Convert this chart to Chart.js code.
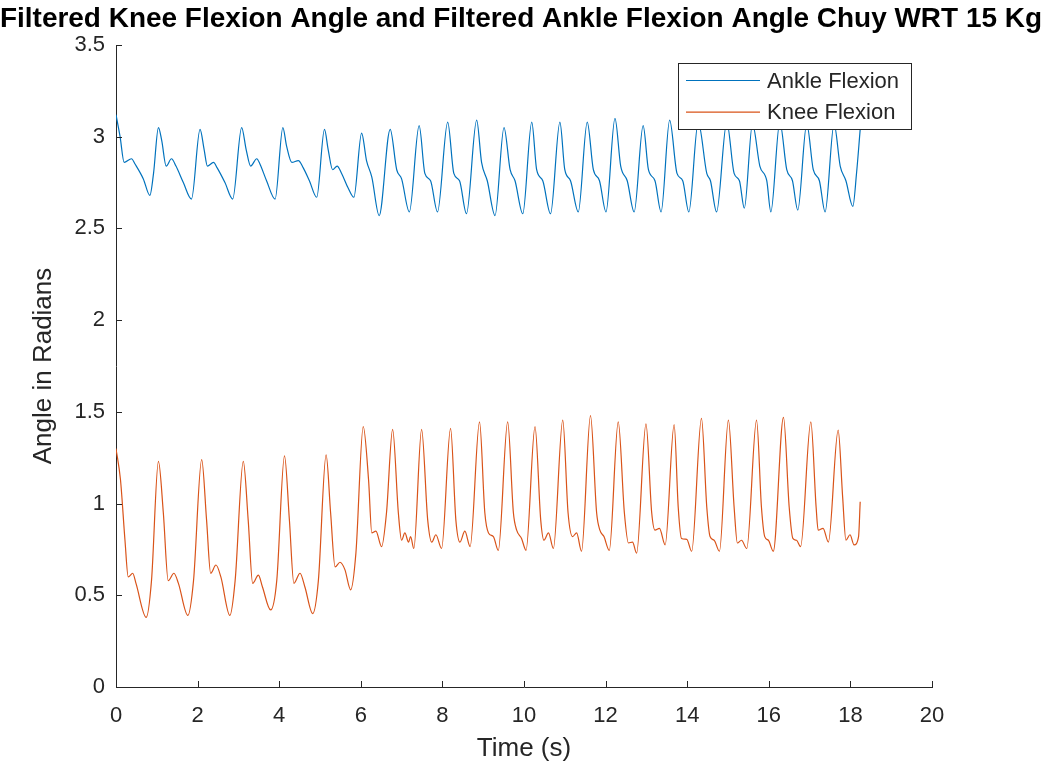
<!DOCTYPE html>
<html>
<head>
<meta charset="utf-8">
<title>Filtered Knee and Ankle Flexion</title>
<script src="https://cdn.jsdelivr.net/npm/chart.js@4.4.1/dist/chart.umd.min.js"></script>
<style>
  html, body { margin: 0; padding: 0; background: #ffffff; }
  #wrap { width: 1042px; height: 769px; }
</style>
</head>
<body>
<div id="wrap"><canvas id="chart" width="1042" height="769"></canvas></div>
<script>
// Time axis (s) and joint angles (rad)
const ankleTime = [
  0.00, 0.10, 0.20, 0.38, 0.47, 0.67, 0.83, 0.92, 1.04, 1.12, 1.23, 1.36, 1.47, 1.65, 1.85,
  2.06, 2.16, 2.24, 2.39, 2.48, 2.67, 2.86, 3.08, 3.19, 3.30, 3.45, 3.53, 3.69, 3.90,
  4.09, 4.18, 4.31, 4.47, 4.59, 4.74, 4.92, 5.11, 5.20, 5.31, 5.42, 5.53, 5.69, 5.83,
  6.02, 6.14, 6.27, 6.45, 6.72, 6.88, 7.00, 7.19, 7.43, 7.57, 7.71, 7.88,
  8.13, 8.28, 8.42, 8.59, 8.84, 8.96, 9.10, 9.29, 9.51, 9.66, 9.78, 9.97,
  10.19, 10.31, 10.46, 10.65, 10.88, 11.00, 11.14, 11.33, 11.55, 11.70, 11.85, 12.01,
  12.23, 12.37, 12.53, 12.70, 12.92, 13.05, 13.21, 13.36, 13.57, 13.75, 13.89, 14.04,
  14.27, 14.48, 14.57, 14.72, 14.97, 15.15, 15.28, 15.40, 15.60, 15.78, 15.95, 16.05,
  16.27, 16.44, 16.58, 16.71, 16.93, 17.09, 17.24, 17.38, 17.60, 17.75, 17.89, 18.06,
  18.15, 18.24
];
const ankleAngle = [
  3.12, 3.00, 2.86, 2.88, 2.85, 2.77, 2.68, 2.80, 3.05, 2.98, 2.84, 2.88, 2.84, 2.75, 2.66,
  3.04, 2.93, 2.84, 2.86, 2.83, 2.75, 2.66, 3.05, 2.93, 2.84, 2.88, 2.85, 2.76, 2.66,
  3.05, 2.95, 2.86, 2.87, 2.83, 2.76, 2.67, 3.04, 2.93, 2.82, 2.84, 2.80, 2.72, 2.67,
  3.02, 2.87, 2.78, 2.57, 3.04, 2.82, 2.77, 2.59, 3.06, 2.80, 2.76, 2.59,
  3.08, 2.80, 2.76, 2.58, 3.09, 2.86, 2.76, 2.57, 3.05, 2.82, 2.76, 2.58,
  3.08, 2.82, 2.76, 2.58, 3.08, 2.82, 2.76, 2.59, 3.08, 2.82, 2.76, 2.59,
  3.10, 2.84, 2.76, 2.59, 3.06, 2.82, 2.76, 2.59, 3.09, 2.80, 2.76, 2.59,
  3.08, 2.80, 2.76, 2.59, 3.08, 2.80, 2.76, 2.61, 3.07, 2.84, 2.76, 2.59,
  3.08, 2.82, 2.76, 2.60, 3.07, 2.82, 2.76, 2.59, 3.07, 2.84, 2.76, 2.62,
  2.80, 3.04
];

const kneeTime = [
  0.00, 0.11, 0.22, 0.30, 0.41, 0.49, 0.74, 0.87, 1.04, 1.16, 1.28, 1.42, 1.53, 1.76, 1.90,
  2.10, 2.22, 2.32, 2.45, 2.57, 2.79, 2.92, 3.12, 3.24, 3.35, 3.49, 3.59, 3.79, 3.94,
  4.13, 4.25, 4.36, 4.51, 4.63, 4.82, 4.96, 5.15, 5.26, 5.37, 5.49, 5.61, 5.75, 5.88,
  6.06, 6.19, 6.27, 6.37, 6.51, 6.63, 6.78, 6.92, 7.00, 7.08, 7.17, 7.22, 7.30,
  7.49, 7.64, 7.74, 7.84, 7.98, 8.20, 8.33, 8.43, 8.55, 8.68,
  8.91, 9.04, 9.13, 9.25, 9.37, 9.60, 9.74, 9.82, 9.94, 10.05,
  10.27, 10.41, 10.49, 10.60, 10.72, 10.95, 11.08, 11.19, 11.29, 11.41,
  11.63, 11.78, 11.86, 11.96, 12.09, 12.31, 12.46, 12.56, 12.66, 12.76,
  12.99, 13.13, 13.21, 13.32, 13.46, 13.68, 13.78, 13.86, 13.99, 14.11,
  14.35, 14.48, 14.56, 14.66, 14.79, 15.01, 15.15, 15.23, 15.33, 15.46,
  15.70, 15.82, 15.90, 15.99, 16.11, 16.36, 16.50, 16.59, 16.68, 16.78,
  17.03, 17.16, 17.21, 17.33, 17.46, 17.70, 17.81, 17.89, 17.99, 18.09,
  18.20, 18.24
];
const kneeAngle = [
  1.30, 1.13, 0.80, 0.60, 0.62, 0.565, 0.38, 0.58, 1.23, 0.95, 0.58, 0.62, 0.565, 0.39, 0.58,
  1.24, 0.91, 0.62, 0.665, 0.60, 0.39, 0.58, 1.23, 0.91, 0.565, 0.61, 0.545, 0.42, 0.58,
  1.26, 0.91, 0.565, 0.62, 0.545, 0.40, 0.58, 1.265, 0.95, 0.655, 0.68, 0.64, 0.53, 0.73,
  1.42, 1.13, 0.84, 0.85, 0.765, 0.95, 1.405, 0.95, 0.80, 0.84, 0.79, 0.82, 0.755,
  1.405, 0.91, 0.79, 0.83, 0.755, 1.41, 0.91, 0.79, 0.85, 0.765,
  1.445, 0.95, 0.84, 0.82, 0.745, 1.445, 0.95, 0.855, 0.81, 0.745,
  1.42, 0.91, 0.80, 0.84, 0.755, 1.455, 0.95, 0.82, 0.84, 0.74,
  1.48, 0.95, 0.855, 0.82, 0.745, 1.445, 0.95, 0.785, 0.79, 0.73,
  1.435, 0.95, 0.855, 0.865, 0.775, 1.43, 0.98, 0.81, 0.805, 0.74,
  1.465, 0.98, 0.82, 0.80, 0.74, 1.455, 0.98, 0.785, 0.80, 0.755,
  1.455, 0.98, 0.82, 0.80, 0.74, 1.47, 0.98, 0.81, 0.80, 0.765,
  1.445, 0.98, 0.855, 0.865, 0.79, 1.40, 1.035, 0.80, 0.83, 0.775,
  0.82, 1.01
];

const xTickValues = [0, 2, 4, 6, 8, 10, 12, 14, 16, 18, 20];
const yTickValues = [0, 0.5, 1, 1.5, 2, 2.5, 3, 3.5];

const seriesNames = ['Ankle Flexion', 'Knee Flexion'];
const seriesColors = ['#0072BD', '#D95319'];

const chartTitle = 'Filtered Knee Flexion Angle and Filtered Ankle Flexion Angle Chuy WRT 15 Kg';
const xTitle = 'Time (s)';
const yTitle = 'Angle in Radians';

const FONT = '"Liberation Sans", Arial, Helvetica, sans-serif';
const INK = '#262626';

function toPoints(xs, ys) {
  return xs.map((x, i) => ({ x: x, y: ys[i] }));
}

// Tick marks drawn inward from both axis lines
const inwardTicks = {
  id: 'inwardTicks',
  afterDraw(chart) {
    const ctx = chart.ctx;
    const xs = chart.scales.x, ys = chart.scales.y;
    const len = 6;
    ctx.save();
    ctx.strokeStyle = INK;
    ctx.lineWidth = 1;
    ctx.beginPath();
    xTickValues.forEach(v => {
      const px = Math.round(xs.getPixelForValue(v)) + 0.5;
      const py = ys.bottom;
      ctx.moveTo(px, py);
      ctx.lineTo(px, py - len);
    });
    yTickValues.forEach(v => {
      const py = Math.round(ys.getPixelForValue(v)) + 0.5;
      const px = xs.left;
      ctx.moveTo(px, py);
      ctx.lineTo(px + len, py);
    });
    ctx.stroke();
    ctx.restore();
  }
};

// Boxed legend in the upper right of the plot area
const boxedLegend = {
  id: 'boxedLegend',
  afterDraw(chart) {
    const ctx = chart.ctx;
    const area = chart.chartArea;
    const w = 233, h = 66;
    const left = area.right - 21 - w;
    const top = area.top + 18;
    ctx.save();
    ctx.fillStyle = '#ffffff';
    ctx.fillRect(left, top, w, h);
    ctx.strokeStyle = INK;
    ctx.lineWidth = 1;
    ctx.strokeRect(Math.round(left) + 0.5, Math.round(top) + 0.5, w, h);
    ctx.font = '22px ' + FONT;
    ctx.textBaseline = 'middle';
    ctx.textAlign = 'left';
    chart.data.datasets.forEach((ds, i) => {
      const y = top + 17.5 + i * 31.6;
      ctx.strokeStyle = ds.borderColor;
      ctx.lineWidth = 1.2;
      ctx.beginPath();
      ctx.moveTo(left + 8, y);
      ctx.lineTo(left + 82, y);
      ctx.stroke();
      ctx.fillStyle = INK;
      ctx.fillText(ds.label, left + 89, y + 1);
    });
    ctx.restore();
  }
};

new Chart(document.getElementById('chart'), {
  type: 'line',
  data: {
    datasets: [
      {
        label: seriesNames[0],
        data: toPoints(ankleTime, ankleAngle),
        borderColor: seriesColors[0],
        backgroundColor: seriesColors[0],
        borderWidth: 1.2,
        pointRadius: 0,
        fill: false,
        cubicInterpolationMode: 'monotone'
      },
      {
        label: seriesNames[1],
        data: toPoints(kneeTime, kneeAngle),
        borderColor: seriesColors[1],
        backgroundColor: seriesColors[1],
        borderWidth: 1.2,
        pointRadius: 0,
        fill: false,
        cubicInterpolationMode: 'monotone'
      }
    ]
  },
  options: {
    responsive: false,
    animation: false,
    devicePixelRatio: 1,
    parsing: false,
    layout: { padding: { left: 0, right: 0, top: 0, bottom: 0 } },
    plugins: {
      legend: { display: false },
      tooltip: { enabled: false },
      title: {
        display: true,
        text: chartTitle,
        align: 'start',
        color: '#000000',
        font: { family: FONT, size: 28, weight: 'bold' },
        padding: { top: 2, bottom: 9.4 }
      }
    },
    scales: {
      x: {
        type: 'linear',
        position: 'bottom',
        min: 0,
        max: 20,
        afterBuildTicks(scale) { scale.ticks = xTickValues.map(v => ({ value: v })); },
        afterFit(scale) { scale.height = 82; },
        grid: { display: false, drawTicks: false },
        border: { display: true, color: INK, width: 1 },
        ticks: {
          color: INK,
          padding: 16,
          font: { family: FONT, size: 22 },
          maxRotation: 0,
          callback: v => String(v)
        },
        title: {
          display: true,
          text: xTitle,
          color: INK,
          font: { family: FONT, size: 26 },
          padding: { top: 0, bottom: 5 }
        }
      },
      y: {
        type: 'linear',
        position: 'left',
        min: 0,
        max: 3.5,
        afterBuildTicks(scale) { scale.ticks = yTickValues.map(v => ({ value: v })); },
        afterFit(scale) { scale.width = 116; },
        grid: { display: false, drawTicks: false },
        border: { display: true, color: INK, width: 1 },
        ticks: {
          color: INK,
          padding: 11,
          font: { family: FONT, size: 22 },
          callback: v => String(v)
        },
        title: {
          display: true,
          text: yTitle,
          color: INK,
          font: { family: FONT, size: 26 },
          padding: { top: 28.4, bottom: 0 }
        }
      },
      // empty right-hand margin beside the plot
      margin: {
        type: 'linear',
        position: 'right',
        display: true,
        afterFit(scale) { scale.width = 110; },
        grid: { display: false, drawTicks: false },
        border: { display: false },
        ticks: { display: false }
      }
    }
  },
  plugins: [inwardTicks, boxedLegend]
});
</script>
</body>
</html>
